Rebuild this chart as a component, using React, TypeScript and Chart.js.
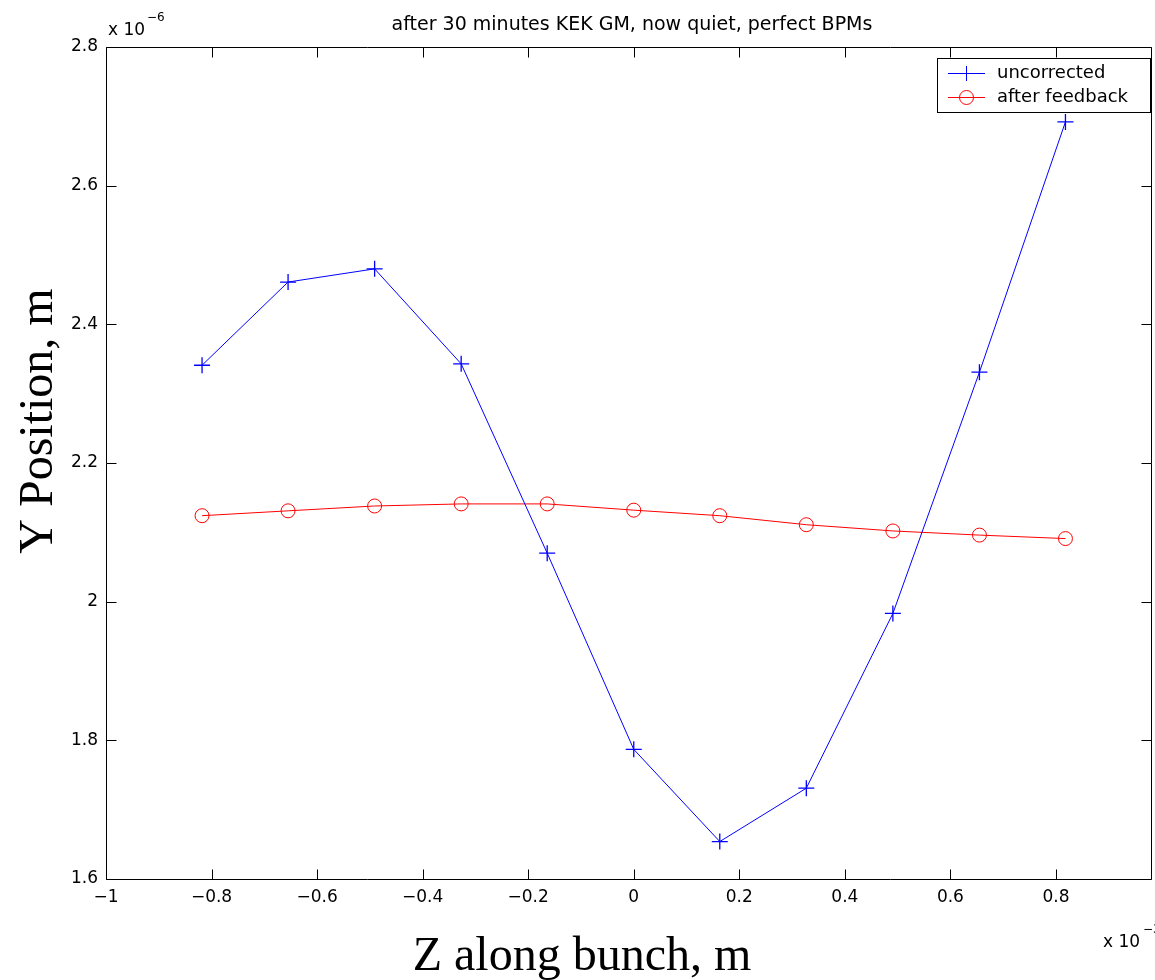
import React, { useEffect, useRef } from 'react';
import { Chart, registerables } from 'chart.js';

Chart.register(...registerables);

// ---- data (x in units of 1e-3 m, y in units of 1e-6 m) ----
const zPositions = [-0.818, -0.655, -0.491, -0.327, -0.164, 0, 0.163, 0.327, 0.491, 0.655, 0.818];
const uncorrected = [2.341, 2.461, 2.48, 2.343, 2.07, 1.787, 1.654, 1.731, 1.983, 2.331, 2.692];
const afterFeedback = [2.124, 2.131, 2.138, 2.141, 2.141, 2.132, 2.124, 2.111, 2.102, 2.096, 2.091];

const seriesLabels = ['uncorrected', 'after feedback'];
const seriesColors = ['#0000ff', '#ff0000'];

const xTickValues = [-1, -0.8, -0.6, -0.4, -0.2, 0, 0.2, 0.4, 0.6, 0.8];
const xTickLabels = ['\u22121', '\u22120.8', '\u22120.6', '\u22120.4', '\u22120.2', '0', '0.2', '0.4', '0.6', '0.8'];
const yTickValues = [1.6, 1.8, 2, 2.2, 2.4, 2.6, 2.8];
const yTickLabels = ['1.6', '1.8', '2', '2.2', '2.4', '2.6', '2.8'];

const titleText = 'after 30 minutes KEK GM, now quiet, perfect BPMs';
const xAxisTitle = 'Z along bunch, m';
const yAxisTitle = 'Y Position, m';
const xExponent = '\u22123';
const yExponent = '\u22126';

const SANS = '"DejaVu Sans", "Liberation Sans", Arial, sans-serif';
const SERIF = '"Liberation Serif", "Times New Roman", serif';

function drawCross(ctx: CanvasRenderingContext2D, x: number, y: number, r: number) {
  ctx.beginPath();
  ctx.moveTo(x - r, y);
  ctx.lineTo(x + r, y);
  ctx.moveTo(x, y - r);
  ctx.lineTo(x, y + r);
  ctx.stroke();
}

function drawCircle(ctx: CanvasRenderingContext2D, x: number, y: number, r: number) {
  ctx.beginPath();
  ctx.arc(x, y, r, 0, Math.PI * 2);
  ctx.stroke();
}

const decorPlugin = {
  id: 'matlabDecor',
  afterDraw(chart: any) {
    const { ctx, chartArea: a, scales } = chart;
    const xs = scales.x;
    const ys = scales.y;
    ctx.save();
    ctx.strokeStyle = '#000';
    ctx.lineWidth = 1;

    // axes box
    const L = Math.round(a.left) + 0.5;
    const T = Math.round(a.top) + 0.5;
    const R = Math.round(a.right) - 0.5;
    const B = Math.round(a.bottom) + 0.5;
    ctx.beginPath();
    ctx.moveTo(L, T);
    ctx.lineTo(R, T);
    ctx.lineTo(R, B);
    ctx.lineTo(L, B);
    ctx.closePath();
    ctx.stroke();

    // inward ticks
    const TL = 10;
    ctx.beginPath();
    xs.ticks.forEach((t: any) => {
      const px = Math.round(xs.getPixelForValue(t.value)) + 0.5;
      ctx.moveTo(px, B);
      ctx.lineTo(px, B - TL);
      ctx.moveTo(px, T);
      ctx.lineTo(px, T + TL);
    });
    ys.ticks.forEach((t: any) => {
      const py = Math.round(ys.getPixelForValue(t.value)) + 0.5;
      ctx.moveTo(L, py);
      ctx.lineTo(L + TL, py);
      ctx.moveTo(R, py);
      ctx.lineTo(R - TL, py);
    });
    ctx.stroke();

    ctx.fillStyle = '#000';
    ctx.textBaseline = 'alphabetic';

    // title
    ctx.font = `19px ${SANS}`;
    ctx.textAlign = 'center';
    ctx.fillText(titleText, 632, 30);

    // y exponent
    ctx.textAlign = 'left';
    ctx.font = `17px ${SANS}`;
    ctx.fillText('x 10', 108, 35);
    ctx.font = `12px ${SANS}`;
    ctx.fillText(yExponent, 147, 21);

    // x exponent
    ctx.font = `17px ${SANS}`;
    ctx.fillText('x 10', 1103, 947);
    ctx.font = `12px ${SANS}`;
    ctx.fillText(xExponent, 1143, 933);

    // axis titles
    ctx.font = `48px ${SERIF}`;
    ctx.textAlign = 'center';
    ctx.fillText(xAxisTitle, 582, 970);
    ctx.save();
    ctx.translate(52, 421);
    ctx.rotate(-Math.PI / 2);
    ctx.fillText(yAxisTitle, 0, 0);
    ctx.restore();

    // legend
    const bx = 937.5, by = 58.5, bw = 213, bh = 54;
    ctx.fillStyle = '#fff';
    ctx.fillRect(bx, by, bw, bh);
    ctx.strokeStyle = '#000';
    ctx.strokeRect(bx, by, bw, bh);
    const rows = [73.5, 97.5];
    seriesLabels.forEach((label, i) => {
      const y = rows[i];
      ctx.strokeStyle = seriesColors[i];
      ctx.lineWidth = 1;
      ctx.beginPath();
      ctx.moveTo(948, y);
      ctx.lineTo(985, y);
      ctx.stroke();
      if (i === 0) drawCross(ctx, 966.5, y, 7.5);
      else drawCircle(ctx, 966.5, y, 7);
      ctx.fillStyle = '#000';
      ctx.font = `18px ${SANS}`;
      ctx.textAlign = 'left';
      ctx.textBaseline = 'middle';
      ctx.fillText(label, 997, y);
    });
    ctx.restore();
  },
};

export default function App() {
  const ref = useRef<HTMLCanvasElement | null>(null);

  useEffect(() => {
    document.body.style.margin = '0';
    document.body.style.background = '#fff';
    const canvas = ref.current;
    if (!canvas) return;
    const chart = new Chart(canvas, {
      type: 'line',
      data: {
        datasets: [
          {
            label: seriesLabels[0],
            data: zPositions.map((x, i) => ({ x, y: uncorrected[i] })),
            borderColor: seriesColors[0],
            backgroundColor: 'rgba(0,0,0,0)',
            borderWidth: 1,
            pointStyle: 'cross',
            pointRadius: 8,
            pointBorderWidth: 1.3,
            pointBorderColor: seriesColors[0],
            tension: 0,
            fill: false,
          },
          {
            label: seriesLabels[1],
            data: zPositions.map((x, i) => ({ x, y: afterFeedback[i] })),
            borderColor: seriesColors[1],
            backgroundColor: 'rgba(0,0,0,0)',
            borderWidth: 1,
            pointStyle: 'circle',
            pointRadius: 7,
            pointBorderWidth: 1,
            pointBackgroundColor: 'rgba(0,0,0,0)',
            pointBorderColor: seriesColors[1],
            tension: 0,
            fill: false,
          },
        ],
      },
      options: {
        responsive: false,
        animation: false,
        devicePixelRatio: 1,
        layout: { autoPadding: false, padding: { top: 47, right: 3, left: 0, bottom: 0 } },
        plugins: {
          legend: { display: false },
          title: { display: false },
          tooltip: { enabled: false },
        },
        scales: {
          x: {
            type: 'linear',
            min: -1,
            max: 0.982,
            grid: { display: false, drawTicks: false },
            border: { display: false },
            afterBuildTicks: (scale: any) => {
              scale.ticks = xTickValues.map((v) => ({ value: v }));
            },
            afterFit: (scale: any) => {
              scale.height = 101;
              scale.paddingLeft = 0;
              scale.paddingRight = 0;
              scale.paddingTop = 0;
              scale.paddingBottom = 0;
            },
            ticks: {
              padding: 8,
              color: '#000',
              font: { family: SANS, size: 17 },
              maxRotation: 0,
              autoSkip: false,
              callback: (_v: any, i: number) => xTickLabels[i],
            },
          },
          y: {
            type: 'linear',
            min: 1.6,
            max: 2.8,
            grid: { display: false, drawTicks: false },
            border: { display: false },
            afterBuildTicks: (scale: any) => {
              scale.ticks = yTickValues.map((v) => ({ value: v }));
            },
            afterFit: (scale: any) => {
              scale.width = 106;
              scale.paddingLeft = 0;
              scale.paddingRight = 0;
              scale.paddingTop = 0;
              scale.paddingBottom = 0;
            },
            ticks: {
              padding: 8,
              color: '#000',
              font: { family: SANS, size: 17 },
              autoSkip: false,
              callback: (_v: any, i: number) => yTickLabels[i],
            },
          },
        },
      },
      plugins: [decorPlugin],
    } as any);
    return () => chart.destroy();
  }, []);

  return (
    <canvas
      ref={ref}
      width={1155}
      height={980}
      style={{ display: 'block', width: '1155px', height: '980px' }}
    />
  );
}
